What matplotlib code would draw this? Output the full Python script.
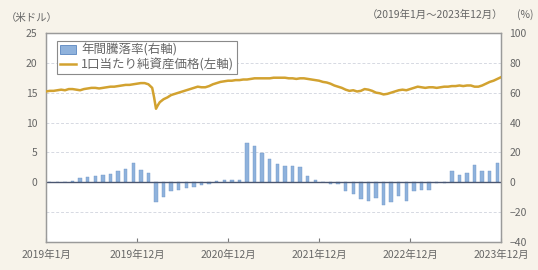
import matplotlib
matplotlib.use("Agg")
import matplotlib.pyplot as plt
from matplotlib.patches import Patch
from matplotlib.lines import Line2D
import numpy as np

plt.rcParams['font.family'] = ['Noto Sans CJK JP', 'DejaVu Sans']

# ---- data ----
# monthly annual return (%), Jan 2019 .. Dec 2023 (right axis)
bar_months = list(range(60))
annual_return = [
    0, 0, 0, 1.0, 2.5, 3.5, 4.0, 4.5, 5.5, 7.5, 9.0, 13.0,       # 2019
    8.0, 6.5, -13.0, -10.0, -6.0, -5.0, -4.0, -3.0, -2.0, -1.5, 1.0, 1.5,  # 2020
    1.5, 1.5, 26.0, 24.5, 19.5, 15.5, 12.5, 11.0, 11.0, 10.5, 4.0, 1.3,     # 2021
    0.3, -1.0, -1.5, -6.0, -8.0, -11.5, -12.5, -10.5, -15.0, -13.5, -9.5, -12.5,  # 2022
    -6.0, -5.0, -5.0, -0.5, -0.3, 7.5, 5.0, 6.0, 11.5, 7.5, 7.5, 13.0,      # 2023
]

# NAV per unit (USD), semi-monthly readings (left axis)
nav_x = [0, 0.5, 1, 1.5, 2, 2.5, 3, 3.5, 4, 4.5, 5, 5.5, 6, 6.5, 7, 7.5, 8, 8.5, 9, 9.5,
         10, 10.5, 11, 11.5, 12, 12.5, 13, 13.5, 14, 14.25, 14.5, 14.75, 15, 15.5, 16, 16.5,
         17, 17.5, 18, 18.5, 19, 19.5, 20, 20.5, 21, 21.5, 22, 22.5, 23, 23.5, 24, 24.5,
         25, 25.5, 26, 26.5, 27, 27.5, 28, 28.5, 29, 29.5, 30, 30.5, 31, 31.5, 32, 32.5,
         33, 33.5, 34, 34.5, 35, 35.5, 36, 36.5, 37, 37.5, 38, 38.5, 39, 39.5, 40, 40.5,
         41, 41.5, 42, 42.5, 43, 43.5, 44, 44.5, 45, 45.5, 46, 46.5, 47, 47.5, 48, 48.5,
         49, 49.5, 50, 50.5, 51, 51.5, 52, 52.5, 53, 53.5, 54, 54.5, 55, 55.5, 56, 56.5,
         57, 57.5, 58, 58.5, 59, 59.5, 60]
nav = [15.2, 15.3, 15.3, 15.4, 15.5, 15.4, 15.6, 15.6, 15.5, 15.4, 15.6, 15.7, 15.8, 15.8,
       15.7, 15.8, 15.9, 16.0, 16.0, 16.1, 16.2, 16.3, 16.3, 16.4, 16.5, 16.6, 16.6, 16.4,
       15.8, 14.2, 12.3, 12.9, 13.4, 13.9, 14.2, 14.6, 14.8, 15.0, 15.2, 15.4, 15.6, 15.8,
       16.0, 15.9, 15.9, 16.1, 16.4, 16.6, 16.8, 16.9, 17.0, 17.0, 17.1, 17.1, 17.2, 17.2,
       17.3, 17.4, 17.4, 17.4, 17.4, 17.4, 17.5, 17.5, 17.5, 17.5, 17.4, 17.4, 17.3, 17.4,
       17.4, 17.3, 17.2, 17.1, 17.0, 16.8, 16.7, 16.5, 16.2, 16.0, 15.8, 15.5, 15.3, 15.4,
       15.2, 15.3, 15.6, 15.5, 15.3, 15.0, 14.9, 14.7, 14.8, 15.0, 15.2, 15.4, 15.5, 15.4,
       15.6, 15.8, 16.0, 15.9, 15.8, 15.9, 15.9, 15.8, 15.9, 16.0, 16.0, 16.1, 16.1, 16.2,
       16.1, 16.2, 16.2, 16.0, 16.0, 16.2, 16.5, 16.8, 17.0, 17.3, 17.6]

xtick_pos = [0, 12, 24, 36, 48, 60]
xtick_labels = ['2019年1月', '2019年12月', '2020年12月', '2021年12月', '2022年12月', '2023年12月']
left_ticks = [0, 5, 10, 15, 20, 25]
right_ticks = [-40, -20, 0, 20, 40, 60, 80, 100]

bar_label = '年間騰落率(右軸)'
line_label = '1口当たり純資産価格(左軸)'

# ---- figure ----
bg = '#f7f3ea'
fig = plt.figure(figsize=(5.38, 2.70), dpi=100, facecolor=bg)
ax = fig.add_axes([0.0855, 0.104, 0.846, 0.774])   # bars, right scale
ax.set_facecolor('white')
ax2 = ax.twinx()                                    # line, left scale

bar_color = '#8fb2dc'
line_color = '#d2a230'
txt = '#666666'
spine_c = '#9a9a9a'

ax.bar(np.array(bar_months) + 0.5, annual_return, width=0.45, color=bar_color,
       edgecolor='#7097c8', linewidth=0.3, zorder=2)
ax.set_ylim(-40, 100)
ax.set_yticks(right_ticks)
ax.set_xlim(0, 60)
for g in [80, 60, 40, 20, -20]:
    ax.axhline(g, color='#d6d9e2', lw=0.7, ls=(0, (3, 2)), zorder=1)
ax.axhline(0, color='#4a5670', lw=1.0, zorder=3)

ax2.plot(nav_x, nav, color=line_color, lw=1.8, zorder=4)
ax2.set_ylim(-10, 25)
ax2.set_yticks(left_ticks)

# swap sides: bar scale on the right, line scale on the left
ax.yaxis.tick_right()
ax2.yaxis.tick_left()
ax.tick_params(axis='y', which='both', length=0, labelsize=7.5, labelcolor=txt, pad=6)
ax2.tick_params(axis='y', which='both', length=0, labelsize=7.5, labelcolor=txt, pad=6)

ax.set_xticks(xtick_pos)
ax.set_xticklabels(xtick_labels)
ax.tick_params(axis='x', direction='in', length=3, width=0.8, color='#777777',
               labelsize=7.5, labelcolor=txt, pad=6)

for a in (ax, ax2):
    for s in a.spines.values():
        s.set_color(spine_c)
        s.set_linewidth(0.9)

handles = [Patch(facecolor=bar_color, edgecolor='#5a86c0', linewidth=0.6),
           Line2D([0], [0], color=line_color, lw=1.8)]
leg = ax2.legend(handles, [bar_label, line_label], loc='upper left',
                 bbox_to_anchor=(0.025, 0.96), fontsize=9, frameon=True,
                 fancybox=False, edgecolor='#8a8a8a', framealpha=1,
                 borderpad=0.2, labelspacing=0.1, handlelength=1.3,
                 handletextpad=0.4, borderaxespad=0)
leg.get_frame().set_linewidth(0.8)
for t in leg.get_texts():
    t.set_color(txt)

fig.text(0.01, 0.935, '（米ドル）', fontsize=7.5, color=txt, ha='left', va='center')
fig.text(0.935, 0.945, '（2019年1月～2023年12月）', fontsize=7.5, color=txt, ha='right', va='center')
fig.text(0.992, 0.945, '(%)', fontsize=7.5, color=txt, ha='right', va='center')

fig.savefig('out.png', dpi=100, facecolor=bg)
